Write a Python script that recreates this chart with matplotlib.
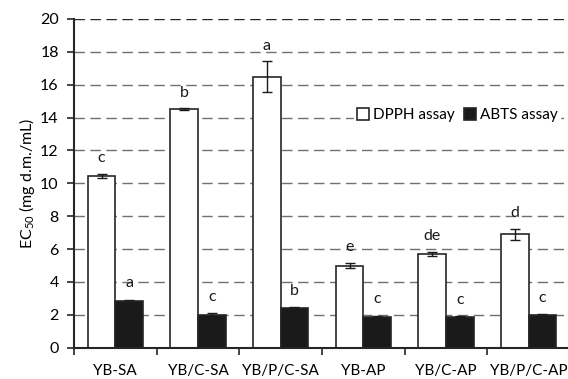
import matplotlib
matplotlib.use("Agg")
import matplotlib.pyplot as plt
import numpy as np

categories = ["YB-SA", "YB/C-SA", "YB/P/C-SA", "YB-AP", "YB/C-AP", "YB/P/C-AP"]
dpph = [10.45, 14.52, 16.5, 5.0, 5.7, 6.9]
dpph_err = [0.12, 0.05, 0.92, 0.17, 0.15, 0.35]
abts = [2.83, 2.02, 2.42, 1.87, 1.89, 1.97]
abts_err = [0.08, 0.07, 0.05, 0.07, 0.03, 0.07]
dpph_letters = ["c", "b", "a", "e", "de", "d"]
abts_letters = ["a", "c", "b", "c", "c", "c"]
yticks = [0, 2, 4, 6, 8, 10, 12, 14, 16, 18, 20]

font = "Lato"
plt.rcParams['font.family'] = [font, 'DejaVu Sans']
plt.rcParams['mathtext.fontset'] = 'custom'
plt.rcParams['mathtext.rm'] = font
plt.rcParams['mathtext.it'] = font

fig = plt.figure(figsize=(5.68, 3.79), dpi=100)
ax = fig.add_axes([74/568, 31.3/379, 496/568, 328.7/379])

x = np.arange(len(categories))
w = 1/3
edge = "#262626"
fs = 11.5

for yv in yticks[1:]:
    ax.axhline(yv, color="#262626" if yv == 20 else "#707070", lw=1.0,
               linestyle=(0, (7.5, 4.0)), zorder=0)

ax.bar(x - w/2, dpph, w, color="white", edgecolor=edge, linewidth=1.2, zorder=2,
       label="DPPH assay")
ax.bar(x + w/2, abts, w, color="#1a1a1a", edgecolor=edge, linewidth=1.2, zorder=2,
       label="ABTS assay")
ax.errorbar(x - w/2, dpph, yerr=dpph_err, fmt="none", ecolor="#1a1a1a",
            elinewidth=1.0, capsize=3.3, capthick=1.0, zorder=3)
ax.errorbar(x + w/2, abts, yerr=abts_err, fmt="none", ecolor="#1a1a1a",
            elinewidth=1.0, capsize=3.3, capthick=1.0, zorder=3)

for i in range(len(categories)):
    ax.text(x[i] - w/2, dpph[i] + dpph_err[i] + 0.95, dpph_letters[i],
            ha="center", va="center", fontsize=fs, color="#1a1a1a", zorder=4)
    ax.text(x[i] + w/2, abts[i] + abts_err[i] + 1.0, abts_letters[i],
            ha="center", va="center", fontsize=fs, color="#1a1a1a", zorder=4)

ax.set_xlim(-0.5, len(categories) - 0.5)
ax.set_ylim(0, 20)
ax.set_yticks(yticks)
ax.set_xticks(x)
ax.set_xticklabels(categories, fontsize=fs - 0.5)
ax.set_xticks(np.arange(len(categories) + 1) - 0.5, minor=True)
ax.tick_params(axis="x", which="major", length=0, pad=12)
ax.tick_params(axis="x", which="minor", length=5, direction="out", width=1.2, color=edge)
ax.tick_params(axis="y", length=5, direction="out", width=1.2, color=edge,
               labelsize=fs, pad=6)

for s in ["top", "right"]:
    ax.spines[s].set_visible(False)
for s in ["left", "bottom"]:
    ax.spines[s].set_color(edge)
    ax.spines[s].set_linewidth(1.5)

ax.set_ylabel(r"EC$_{50}$ (mg d.m./mL)", fontsize=fs, labelpad=2)

leg = ax.legend(loc="center", bbox_to_anchor=(383/496, 1 - (115 - 19)/328.7),
                ncol=2, frameon=True, fontsize=fs - 0.5, handlelength=0.8,
                handleheight=0.8, handletextpad=0.25, columnspacing=0.6,
                borderpad=0.2, fancybox=False, edgecolor="white", framealpha=1)
leg.set_zorder(5)

fig.savefig("out.png", dpi=100)
